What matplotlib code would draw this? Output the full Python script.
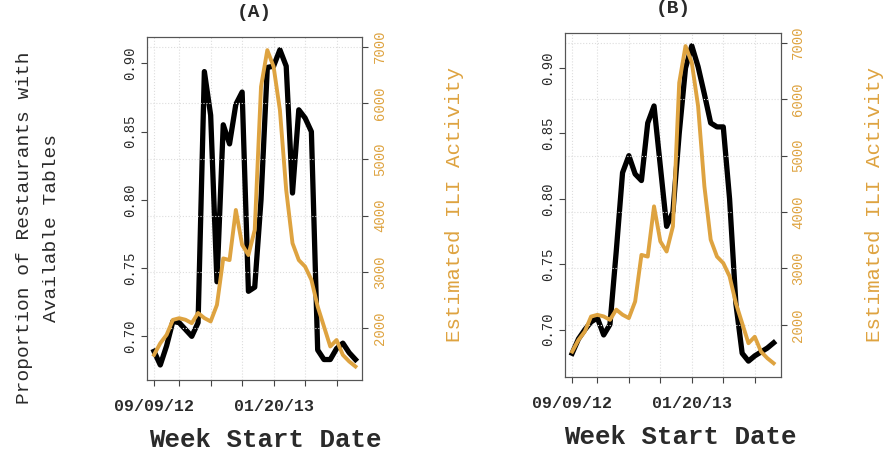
import numpy as np
import matplotlib
matplotlib.use('Agg')
import matplotlib.pyplot as plt
import matplotlib.transforms as mtransforms

plt.rcParams['font.family'] = ['Liberation Mono', 'DejaVu Sans Mono']

weeks = np.arange(33)
tick_weeks = [0, 4, 9, 14, 19, 24, 29]
tick_labels = ['09/09/12', '', '', '', '01/20/13', '', '']

# proportion of restaurants with available tables
tables_a = [0.689, 0.679, 0.693, 0.711, 0.710, 0.705, 0.700, 0.710, 0.894, 0.862,
            0.740, 0.855, 0.841, 0.870, 0.879, 0.733, 0.736, 0.800, 0.897, 0.898,
            0.910, 0.898, 0.805, 0.866, 0.860, 0.850, 0.690, 0.683, 0.683, 0.691,
            0.695, 0.688, 0.683]
tables_b = [0.682, 0.693, 0.700, 0.706, 0.709, 0.696, 0.704, 0.760, 0.820, 0.833,
            0.819, 0.814, 0.858, 0.871, 0.825, 0.779, 0.790, 0.850, 0.900, 0.917,
            0.901, 0.880, 0.858, 0.855, 0.855, 0.800, 0.720, 0.682, 0.676, 0.680,
            0.683, 0.686, 0.690]

# estimated ILI activity
ili = [1527, 1734, 1882, 2148, 2178, 2150, 2090, 2270, 2180, 2120,
       2415, 3240, 3210, 4100, 3480, 3300, 3745, 6290, 6940, 6645,
       5875, 4455, 3510, 3210, 3095, 2860, 2385, 2030, 1675, 1790,
       1525, 1410, 1320]

gold = '#DEA340'
dark = '#2a2a2a'

fig = plt.figure(figsize=(8.86, 4.54), dpi=100)
shift = mtransforms.ScaledTranslation(-7 / 100, 0, fig.dpi_scale_trans)


def panel(rect, tables, title, ylim):
    ax = fig.add_axes(rect)
    ax.plot(weeks, tables, color='black', lw=3.8)
    ax.set_xlim(-1.1, 33.1)
    ax.set_ylim(*ylim)
    ax.set_xticks(tick_weeks)
    ax.set_xticklabels(tick_labels, fontsize=12, fontweight='bold', color=dark)
    for lab in ax.get_xticklabels():
        lab.set_transform(lab.get_transform() + shift)
    ax.set_yticks([0.70, 0.75, 0.80, 0.85, 0.90])
    ax.set_yticklabels(['0.70', '0.75', '0.80', '0.85', '0.90'], rotation=90,
                       va='center', fontsize=10, color=dark)
    ax.tick_params(direction='out', length=4, color='#444444')
    ax.tick_params(axis='x', pad=10)
    ax.xaxis.grid(True, color='#dddddd', ls=':', lw=0.8)
    for s in ax.spines.values():
        s.set_color('#555555')
    ax.set_title(title, fontsize=14, fontweight='bold', pad=14, color=dark)

    ax2 = ax.twinx()
    ax2.plot(weeks, ili, color=gold, lw=2.8)
    ax2.set_ylim(1080, 7177)
    ax2.set_yticks([2000, 3000, 4000, 5000, 6000, 7000])
    ax2.set_yticklabels(['2000', '3000', '4000', '5000', '6000', '7000'], rotation=90,
                        va='center', fontsize=10, color=gold)
    ax2.tick_params(direction='out', length=4, color='#444444')
    ax2.yaxis.grid(True, color='#dddddd', ls=':', lw=0.8)
    for s in ax2.spines.values():
        s.set_color('#555555')
    return ax, ax2


panel([0.166, 0.163, 0.243, 0.756], tables_a, '(A)', (0.668, 0.9195))
panel([0.638, 0.170, 0.243, 0.758], tables_b, '(B)', (0.664, 0.927))

fig.text(38 / 886, 1 - 228 / 454, 'Proportion of Restaurants with\nAvailable Tables',
         rotation=90, ha='center', va='center', fontsize=14, color=dark,
         multialignment='center', linespacing=1.7)
fig.text(455 / 886, 1 - 205 / 454, 'Estimated ILI Activity', rotation=90,
         ha='center', va='center', fontsize=15, color=gold)
fig.text(875 / 886, 1 - 205 / 454, 'Estimated ILI Activity', rotation=90,
         ha='center', va='center', fontsize=15, color=gold)
fig.text(265 / 886, 1 - 440 / 454, 'Week Start Date', ha='center', va='center',
         fontsize=18.5, fontweight='bold', color=dark)
fig.text(680 / 886, 1 - 437 / 454, 'Week Start Date', ha='center', va='center',
         fontsize=18.5, fontweight='bold', color=dark)

plt.savefig('out.png', dpi=100)
